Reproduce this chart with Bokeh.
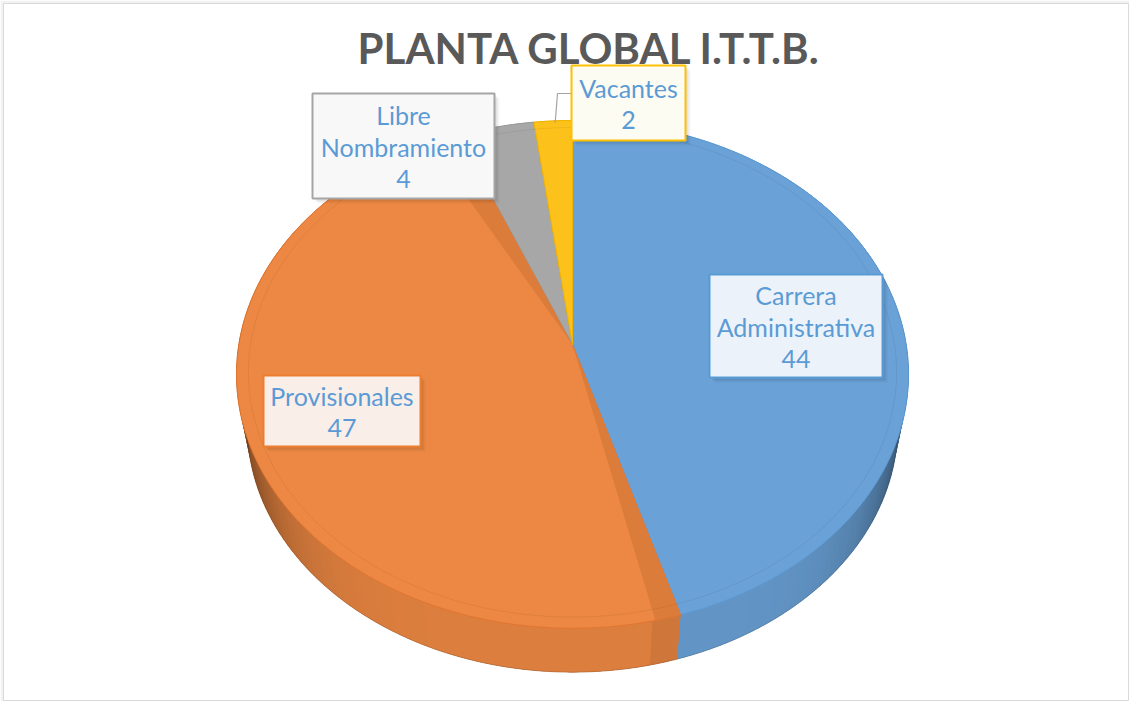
import numpy as np
from bokeh.plotting import figure
from bokeh.models import Range1d
from bokeh.embed import file_html
from bokeh.resources import INLINE
from bokeh.core.properties import value

# ---------------- data ----------------
title = "PLANTA GLOBAL I.T.T.B."
categories = ["Carrera Administrativa", "Provisionales", "Libre Nombramiento", "Vacantes"]
label_lines = [["Carrera", "Administrativa"], ["Provisionales"], ["Libre", "Nombramiento"], ["Vacantes"]]
counts = [44, 47, 4, 2]

# ---------------- styles ----------------
top_colors = ["#6aa1d6", "#ec8843", "#a7a7a7", "#fcc11b"]
edge_colors = ["#5b9bd5", "#e2752f", "#9a9a9a", "#f0b400"]
box_borders = ["#5b9bd5", "#ed7d31", "#a5a5a5", "#ffc000"]
box_fills = ["#ecf2fa", "#f9eee8", "#f8f8f8", "#fdfcf3"]
text_color = "#5b9bd5"
LABEL_FONT = "Lato"

# layout of the label boxes (pixels in the page)
box_l = [717, 271, 320, 579]
box_r = [890, 428, 502, 693]
box_t = [282, 383, 101, 73]
box_b = [385, 454, 206, 148]

W, H = 1129, 701
X0, Y0 = 11, 11
p = figure(width=W, height=H, output_backend="svg", toolbar_location=None,
           x_range=Range1d(X0, 8 + W), y_range=Range1d(8 + H, Y0),
           x_axis_type=None, y_axis_type=None,
           min_border_left=3, min_border_top=3, min_border_right=0, min_border_bottom=0)
p.grid.visible = False
p.background_fill_color = "white"
p.border_fill_color = "#f2f2f2"
p.outline_line_color = "#d9d9d9"
p.outline_line_width = 1

# perspective projection of the pie disk
CX, CY = 580.0, 352.0
D, SX, SY = 8.5, 2836.0, 2128.0
S_B, CYB = 0.968, 405.0   # bottom disk: scaled & shifted


def proj(theta, r=1.0):
    u = r * np.sin(theta)
    v = -r * np.cos(theta)
    return CX + SX * u / (D - v), CY + SY * v / (D - v)


def proj_bottom(theta):
    x, y = proj(theta)
    return CX + (x - CX) * S_B, CYB + (y - CY) * S_B


total = float(sum(counts))
angles = 2 * np.pi * np.cumsum([0.0] + counts) / total


def arc(a0, a1, r=1.0, n=None):
    n = n or max(8, int(abs(a1 - a0) / (2 * np.pi) * 400))
    return proj(np.linspace(a0, a1, n), r)


def shade(hexcol, f):
    h = hexcol.lstrip("#")
    rgb = [int(h[i:i + 2], 16) for i in (0, 2, 4)]
    return "#%02x%02x%02x" % tuple(int(max(0, min(255, c * f))) for c in rgb)


def side_poly(s0, s1):
    t = np.linspace(s0, s1, max(4, int((s1 - s0) / np.radians(0.5)) + 2))
    tx, ty = proj(t)
    bx, by = proj_bottom(t[::-1])
    return np.concatenate([tx, bx]).tolist(), np.concatenate([ty, by]).tolist()


# base side per slice
bxs, bys, bcs = [], [], []
for i in range(len(counts)):
    xs, ys = side_poly(angles[i], angles[i + 1])
    bxs.append(xs)
    bys.append(ys)
    bcs.append(shade(top_colors[i], 0.85))
p.patches(bxs, bys, fill_color=bcs, line_color=bcs, line_width=0.5)

# shading gradient: overlapping thin segments
sx, sy, sc = [], [], []
step = np.radians(1.5)
for i in range(len(counts)):
    a0, a1 = angles[i], angles[i + 1]
    n = max(2, int(np.ceil((a1 - a0) / step)) + 1)
    edges = np.linspace(a0, a1, n)
    for k in range(n - 1):
        s0, s1 = edges[k], min(a1, edges[k + 1] + step * 0.6)
        mid = 0.5 * (edges[k] + edges[k + 1])
        f = 0.93 - 0.50 * abs(np.sin(mid)) ** 6
        if i == 1 and mid < angles[1] + np.radians(4):
            f -= 0.05
        xs, ys = side_poly(s0, s1)
        sx.append(xs)
        sy.append(ys)
        sc.append(shade(top_colors[i], f))
p.patches(sx, sy, fill_color=sc, line_alpha=0)

# bottom edge line of the side
bex, bey = proj_bottom(np.linspace(np.pi * 0.45, np.pi * 1.55, 200))
p.line(bex, bey, line_color="#000000", line_alpha=0.12, line_width=1)

# top faces
fx, fy, fc, ec = [], [], [], []
for i in range(len(counts)):
    ax, ay = arc(angles[i], angles[i + 1])
    fx.append([CX] + ax.tolist())
    fy.append([CY] + ay.tolist())
    fc.append(top_colors[i])
    ec.append(edge_colors[i])
p.patches(fx, fy, fill_color=fc, line_color=ec, line_width=1)

# darker inner bands on the large orange slice
ia = 1
for b0, b1 in [(angles[ia], angles[ia] + np.radians(4)), (angles[ia + 1] - np.radians(6), angles[ia + 1])]:
    ax, ay = arc(b0, b1)
    p.patch([CX] + ax.tolist(), [CY] + ay.tolist(), fill_color="#d97a3a", fill_alpha=0.85, line_alpha=0)

# faint inner ring
rx, ry = arc(0, 2 * np.pi, r=0.965, n=400)
p.line(rx, ry, line_color="#000000", line_alpha=0.06, line_width=1)

# title
p.text(x=[597], y=[55], text=[title], text_font=value("Lato"), text_font_style="bold",
       text_font_size="42px", text_color="#595959", text_align="center", text_baseline="middle")

# leader line for the small slice
lx0, ly0 = proj((angles[3] + angles[4]) / 2)
p.line([box_l[3], box_l[3] - 14, lx0 + 2], [101, 101, ly0 + 2], line_color="#a5a5a5", line_width=1.2)

# label boxes with soft shadow
for off, alpha in [(5, 0.04), (3, 0.07)]:
    p.quad(left=[l + off for l in box_l], right=[r + off for r in box_r],
           top=[t + off for t in box_t], bottom=[b + off for b in box_b],
           fill_color="black", fill_alpha=alpha, line_alpha=0)
p.quad(left=box_l, right=box_r, top=box_t, bottom=box_b,
       fill_color=box_fills, line_color=box_borders, line_width=2)

tx, ty, tt = [], [], []
for i in range(len(counts)):
    lines = label_lines[i] + [str(counts[i])]
    n = len(lines)
    cy = (box_t[i] + box_b[i]) / 2 + 1
    cx = (box_l[i] + box_r[i]) / 2
    for k, s in enumerate(lines):
        tx.append(cx)
        ty.append(cy + (k - (n - 1) / 2) * 32)
        tt.append(s)
p.text(x=tx, y=ty, text=tt, text_font=value(LABEL_FONT), text_font_size="25px",
       text_color=text_color, text_align="center", text_baseline="middle")

open("out.html", "w").write(file_html(p, INLINE))
